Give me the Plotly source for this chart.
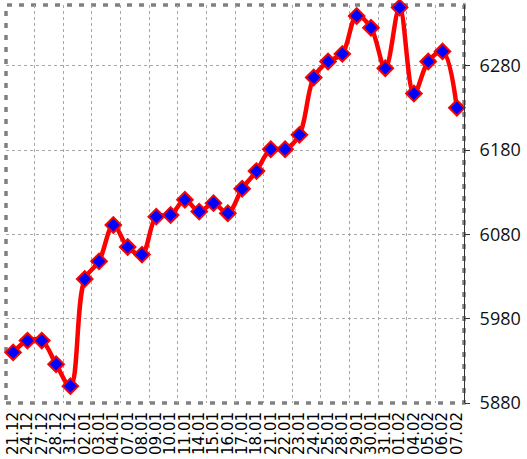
import numpy as np
import plotly.graph_objects as go

dates = ["21.12", "24.12", "27.12", "28.12", "31.12", "02.01", "03.01", "04.01",
         "07.01", "08.01", "09.01", "10.01", "11.01", "14.01", "15.01", "16.01",
         "17.01", "18.01", "21.01", "22.01", "23.01", "24.01", "25.01", "28.01",
         "29.01", "30.01", "31.01", "01.02", "04.02", "05.02", "06.02", "07.02"]
values = [5940, 5954, 5954, 5926, 5900, 6027, 6048, 6091,
          6065, 6056, 6101, 6103, 6121, 6107, 6117, 6105,
          6134, 6155, 6181, 6181, 6198, 6266, 6285, 6294,
          6339, 6325, 6277, 6349, 6247, 6285, 6297, 6230]
y_ticks = [5880, 5980, 6080, 6180, 6280]

idx = np.arange(len(dates))

fig = go.Figure()
fig.add_trace(go.Scatter(
    x=idx, y=values, mode="lines+markers",
    line=dict(color="#ff0000", width=4.5, shape="spline", smoothing=1.0),
    marker=dict(symbol="diamond", size=12, color="#0000ff",
                line=dict(color="#ff0000", width=2)),
    hoverinfo="skip", showlegend=False, cliponaxis=False,
))

fig.update_layout(
    width=527, height=459,
    margin=dict(l=6, r=63, t=5, b=56, autoexpand=False),
    paper_bgcolor="white", plot_bgcolor="white",
    xaxis=dict(
        range=[-0.5, len(dates) - 0.5], automargin=False,
        tickmode="array", tickvals=idx, ticktext=dates,
        tickangle=-90, showgrid=False, zeroline=False, showline=False,
        ticks="", ticklabelstandoff=5,
        tickfont=dict(family="DejaVu Sans", size=15, color="black"),
        minor=dict(tickmode="array",
                   tickvals=[i - 0.5 for i in range(0, len(dates) + 1, 2)],
                   showgrid=True, gridcolor="#a8a8a8", griddash="3px,3px",
                   gridwidth=1, ticks=""),
    ),
    yaxis=dict(
        side="right", range=[5880, 6352], automargin=False,
        tickmode="array", tickvals=y_ticks,
        showgrid=True, gridcolor="#a8a8a8", griddash="3px,3px", gridwidth=1,
        zeroline=False, showline=True, linecolor="#333333", linewidth=1,
        ticks="outside", ticklen=5, tickcolor="#333333",
        ticklabelstandoff=6,
        tickfont=dict(family="Open Sans", size=18, color="#111111"),
    ),
    shapes=[dict(type="rect", xref="paper", yref="paper", x0=0, x1=1, y0=0, y1=1,
                 line=dict(color="#808080", width=3.5, dash="5px,7px"), layer="below")],
)

fig.write_html("out.html", config={"displayModeBar": False},
               post_script="document.body.style.margin='0';")
